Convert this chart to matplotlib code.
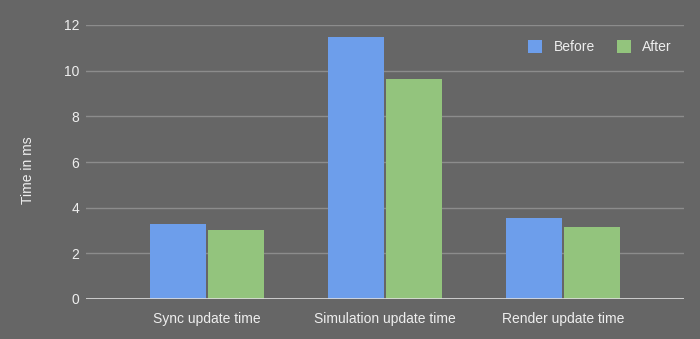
import matplotlib

matplotlib.use("Agg")
import matplotlib.pyplot as plt
import numpy as np

plt.rcParams["font.family"] = ["Liberation Sans", "DejaVu Sans"]

BG = "#666666"
TEXT = "#eeeeee"
GRID = "#8c8c8c"
BEFORE_COLOR = "#6d9eeb"
AFTER_COLOR = "#93c47d"

categories = ["Sync update time", "Simulation update time", "Render update time"]
before = [3.28, 11.48, 3.53]
after = [3.02, 9.64, 3.14]
yticks = [0, 2, 4, 6, 8, 10, 12]

fig = plt.figure(figsize=(7.0, 3.39), dpi=100, facecolor=BG)
ax = fig.add_axes([86 / 700, 1 - 299 / 339, (684 - 86) / 700, (299 - 25) / 339])
ax.set_facecolor(BG)

x = np.arange(len(categories))
w = 0.315
gap = 0.006
ax.bar(x - w / 2 - gap, before, width=w, color=BEFORE_COLOR, label="Before", zorder=3)
ax.bar(x + w / 2 + gap, after, width=w, color=AFTER_COLOR, label="After", zorder=3)

ax.set_xlim(-0.68, 2.68)
ax.set_ylim(0, 12)
ax.set_yticks(yticks)
ax.set_xticks(x)
ax.set_xticklabels(categories)
ax.grid(axis="y", color=GRID, linewidth=1, zorder=0)
ax.axhline(0, color="#dddddd", linewidth=1.2, zorder=4)
for s in ax.spines.values():
    s.set_visible(False)
ax.tick_params(colors=TEXT, labelsize=10, length=0)
ax.tick_params(axis="y", pad=5)
ax.tick_params(axis="x", pad=9)
ax.set_ylabel("Time in ms", color=TEXT, fontsize=10)
ax.yaxis.set_label_coords(-51 / 598, 0.47)

leg = ax.legend(
    loc="upper right",
    bbox_to_anchor=(1.0, 0.99),
    ncol=2,
    frameon=False,
    fontsize=10,
    handlelength=1.0,
    handleheight=1.0,
    columnspacing=1.6,
    handletextpad=0.8,
    labelcolor=TEXT,
)

fig.savefig("out.png", dpi=100, facecolor=BG)
